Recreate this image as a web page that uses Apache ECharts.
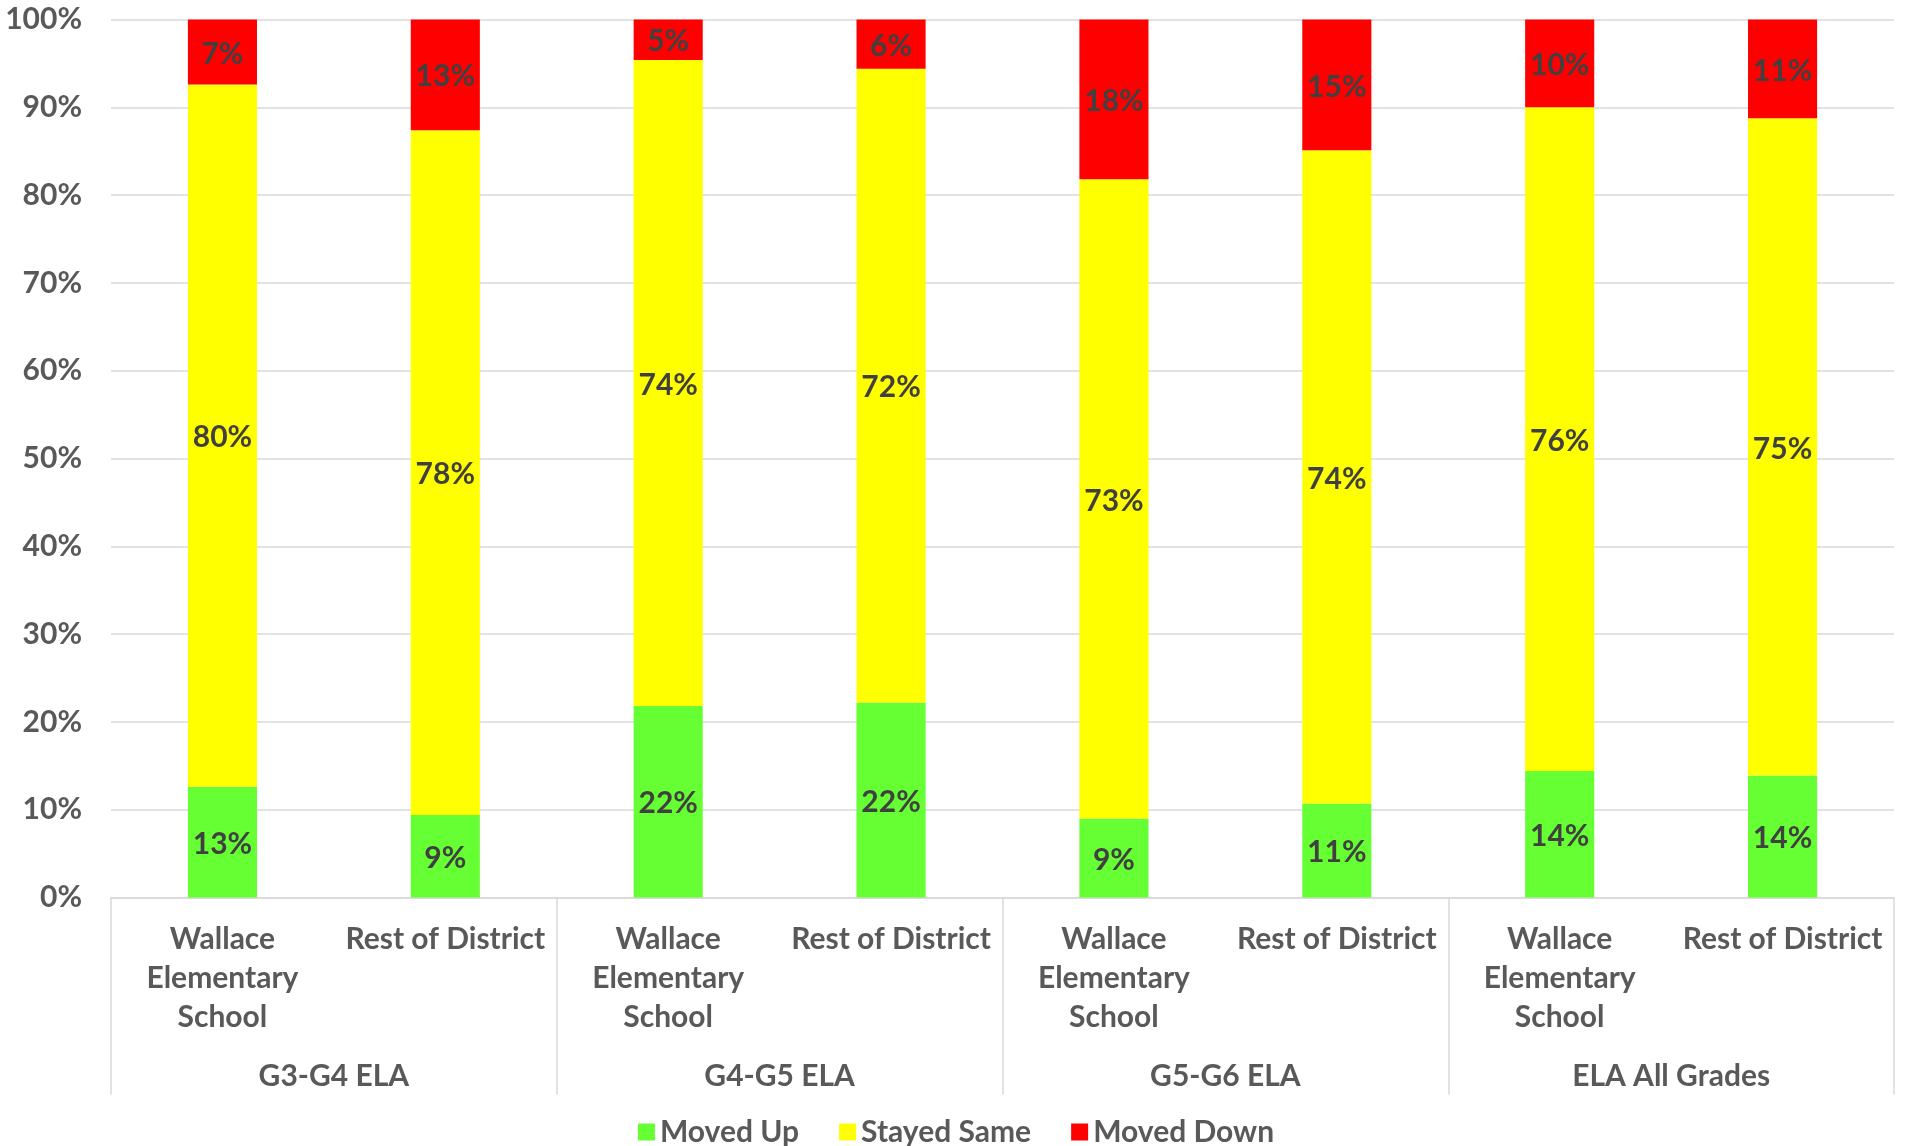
<!DOCTYPE html>
<html>
<head>
<meta charset="utf-8">
<script src="https://cdn.jsdelivr.net/npm/echarts@6/dist/echarts.min.js"></script>
<style>
html,body{margin:0;padding:0;background:#fff;}
#chart{width:1912px;height:1146px;}
</style>
</head>
<body>
<div id="chart"></div>
<script>
const subCategories = [
  'Wallace\nElementary\nSchool', 'Rest of District',
  'Wallace\nElementary\nSchool', 'Rest of District',
  'Wallace\nElementary\nSchool', 'Rest of District',
  'Wallace\nElementary\nSchool', 'Rest of District'
];
const groupCategories = ['G3-G4 ELA', 'G4-G5 ELA', 'G5-G6 ELA', 'ELA All Grades'];
const movedUp    = [12.6, 9.4, 21.8, 22.2, 9.0, 10.7, 14.4, 13.9];
const stayedSame = [80.0, 78.0, 73.6, 72.2, 72.8, 74.4, 75.6, 74.85];
const movedDown  = [7.4, 12.6, 4.6, 5.6, 18.2, 14.9, 10.0, 11.25];
const yTicks = [0, 10, 20, 30, 40, 50, 60, 70, 80, 90, 100];

const FONT = "Lato, sans-serif";
const chart = echarts.init(document.getElementById('chart'));

function labelCfg() {
  return {
    show: true,
    position: 'inside',
    offset: [0, 2],
    formatter: p => Math.round(p.value) + '%',
    color: '#404040',
    fontWeight: 'bold',
    fontSize: 30,
    fontFamily: FONT
  };
}

chart.setOption({
  animation: false,
  color: ['#66FF33', '#FFFF00', '#FF0000'],
  grid: { left: 111, right: 18, top: 19.5, bottom: 248.5, containLabel: false },
  legend: {
    top: 1112,
    left: 'center',
    itemWidth: 17,
    itemHeight: 17,
    itemGap: 40,
    icon: 'rect',
    textStyle: { fontSize: 30, fontWeight: 'bold', color: '#595959', fontFamily: FONT },
    data: ['Moved Up', 'Stayed Same', 'Moved Down']
  },
  xAxis: [
    {
      type: 'category',
      data: subCategories,
      position: 'bottom',
      axisLine: { show: true, lineStyle: { color: '#d9d9d9', width: 1.5 } },
      axisTick: { show: false },
      axisLabel: {
        interval: 0,
        margin: 22,
        fontSize: 30,
        lineHeight: 39,
        fontWeight: 'bold',
        color: '#595959',
        fontFamily: FONT,
        align: 'center',
        verticalAlign: 'top'
      },
      splitLine: { show: false }
    },
    {
      type: 'category',
      data: groupCategories,
      position: 'bottom',
      offset: 0,
      gridIndex: 0,
      axisLine: { show: false },
      axisTick: { show: true, length: 197, interval: 0, lineStyle: { color: '#d9d9d9', width: 1.5 } },
      axisLabel: {
        interval: 0,
        margin: 164,
        fontSize: 30,
        fontWeight: 'bold',
        color: '#595959',
        fontFamily: FONT,
        verticalAlign: 'top'
      },
      splitLine: { show: false }
    }
  ],
  yAxis: {
    type: 'value',
    min: yTicks[0],
    max: yTicks[yTicks.length - 1],
    interval: yTicks[1] - yTicks[0],
    axisLine: { show: false },
    axisTick: { show: false },
    axisLabel: {
      formatter: '{value}%',
      margin: 29,
      fontSize: 30,
      fontWeight: 'bold',
      color: '#595959',
      fontFamily: FONT
    },
    splitLine: { lineStyle: { color: '#d9d9d9', width: 1.5 } }
  },
  series: [
    { name: 'Moved Up', type: 'bar', stack: 'total', data: movedUp, barWidth: '31%', label: labelCfg(), xAxisIndex: 0 },
    { name: 'Stayed Same', type: 'bar', stack: 'total', data: stayedSame, barWidth: '31%', label: labelCfg(), xAxisIndex: 0 },
    { name: 'Moved Down', type: 'bar', stack: 'total', data: movedDown, barWidth: '31%', label: labelCfg(), xAxisIndex: 0 }
  ]
});
</script>
</body>
</html>
